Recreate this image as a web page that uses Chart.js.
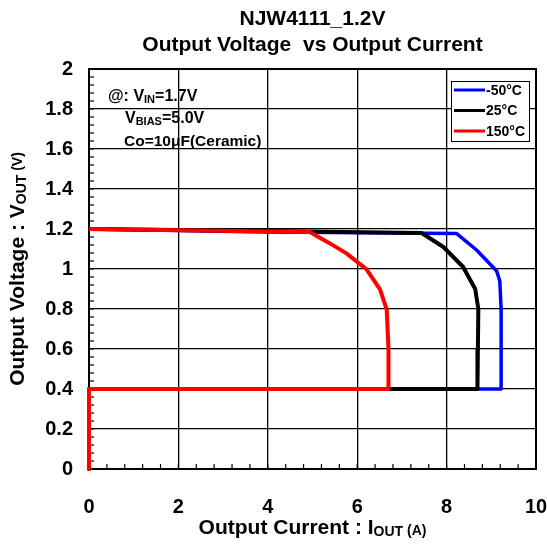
<!DOCTYPE html>
<html>
<head>
<meta charset="utf-8">
<script src="https://cdn.jsdelivr.net/npm/chart.js@4.4.0/dist/chart.umd.min.js"></script>
<style>
  html, body { margin: 0; padding: 0; background: #fff; }
  #wrap { width: 547px; height: 544px; }
</style>
</head>
<body>
<div id="wrap"><canvas id="chart"></canvas></div>
<script>
// readings: output current (A) and output voltage (V) per temperature
const tempLabels = ['-50°C', '25°C', '150°C'];

const iMinus50 = [0, 4, 8.22, 8.67, 9.12, 9.19, 9.22, 9.22, 9.22, 0, 0];
const vMinus50 = [1.2, 1.185, 1.178, 1.095, 0.99, 0.94, 0.8, 0.6, 0.4, 0.4, 0];

const i25 = [0, 4, 7.44, 7.93, 8.37, 8.64, 8.71, 8.70, 8.69, 0, 0];
const v25 = [1.2, 1.19, 1.18, 1.11, 1.01, 0.9, 0.8, 0.6, 0.4, 0.4, 0];

const i150 = [0, 4.94, 5.39, 5.76, 6.21, 6.51, 6.66, 6.70, 6.70, 0, 0];
const v150 = [1.2, 1.185, 1.128, 1.078, 0.998, 0.898, 0.798, 0.6, 0.4, 0.4, 0];

const xTicks = [0, 2, 4, 6, 8, 10];
const yTicks = [0, 0.2, 0.4, 0.6, 0.8, 1, 1.2, 1.4, 1.6, 1.8, 2];

const FONT = '"Liberation Sans", Arial, sans-serif';

function pts(xs, ys) {
    return xs.map((x, k) => ({ x: x, y: ys[k] }));
}

// text made of parts, some of them subscripts
function richWidth(ctx, parts, size) {
    let w = 0;
    parts.forEach(p => {
        ctx.font = 'bold ' + (p.s || size) + 'px ' + FONT;
        w += ctx.measureText(p.t).width;
    });
    return w;
}
function drawRich(ctx, parts, x, y, size) {
    ctx.textBaseline = 'middle';
    ctx.textAlign = 'left';
    parts.forEach(p => {
        ctx.font = 'bold ' + (p.s || size) + 'px ' + FONT;
        ctx.fillText(p.t, x, y + (p.dy || 0));
        x += ctx.measureText(p.t).width;
    });
}

const extras = {
    id: 'extras',
    beforeDatasetsDraw(chart) {
        const ctx = chart.ctx;
        const a = chart.chartArea;
        const xs = chart.scales.x, ys = chart.scales.y;
        ctx.save();
        ctx.strokeStyle = '#000';
        ctx.lineWidth = 1.2;
        // minor ticks, pointing inward
        for (let v = 0; v <= 2.0001; v += 0.04) {
            const py = ys.getPixelForValue(v);
            ctx.beginPath(); ctx.moveTo(a.left, py); ctx.lineTo(a.left + 5, py); ctx.stroke();
        }
        for (let v = 0; v <= 10.0001; v += 0.4) {
            const px = xs.getPixelForValue(v);
            ctx.beginPath(); ctx.moveTo(px, a.bottom); ctx.lineTo(px, a.bottom - 5); ctx.stroke();
        }
        ctx.lineWidth = 2;
        ctx.strokeRect(a.left, a.top, a.right - a.left, a.bottom - a.top);
        ctx.restore();
    },
    afterDraw(chart) {
        const ctx = chart.ctx;
        const a = chart.chartArea;
        ctx.save();
        ctx.fillStyle = '#000';

        // conditions
        drawRich(ctx, [{ t: '@: V' }, { t: 'IN', s: 11, dy: 3 }, { t: '=1.7V' }], 108, 97, 16);
        drawRich(ctx, [{ t: 'V' }, { t: 'BIAS', s: 11, dy: 3 }, { t: '=5.0V' }], 125, 119, 16);
        drawRich(ctx, [{ t: 'Co=10μF(Ceramic)' }], 124, 142, 15.5);

        // legend box
        const lx = 451, ly = 81, lw = 78, lh = 60;
        ctx.fillStyle = '#fff';
        ctx.fillRect(lx, ly, lw, lh);
        ctx.strokeStyle = '#000';
        ctx.lineWidth = 1;
        ctx.strokeRect(lx + 0.5, ly + 0.5, lw, lh);
        chart.data.datasets.forEach((ds, k) => {
            const ry = 90 + k * 20.5;
            ctx.strokeStyle = ds.borderColor;
            ctx.lineWidth = 3;
            ctx.beginPath(); ctx.moveTo(454, ry); ctx.lineTo(485, ry); ctx.stroke();
            ctx.fillStyle = '#000';
            drawRich(ctx, [{ t: ds.label }], 486, ry + 1, 14);
        });

        // x axis title
        const xParts = [{ t: 'Output Current : I' }, { t: 'OUT', s: 14, dy: 4 }, { t: ' (A)', s: 14, dy: 3 }];
        const xw = richWidth(ctx, xParts, 21);
        ctx.fillStyle = '#000';
        drawRich(ctx, xParts, (a.left + a.right) / 2 - xw / 2, 528, 21);

        // y axis title
        const yParts = [{ t: 'Output Voltage : V' }, { t: 'OUT', s: 14, dy: 4 }, { t: ' (V)', s: 14, dy: 0 }];
        const yw = richWidth(ctx, yParts, 21);
        ctx.translate(18, 269);
        ctx.rotate(-Math.PI / 2);
        drawRich(ctx, yParts, -yw / 2, 0, 21);
        ctx.restore();
    }
};

new Chart(document.getElementById('chart').getContext('2d'), {
    type: 'scatter',
    data: {
        datasets: [{
            label: tempLabels[0],
            data: pts(iMinus50, vMinus50),
            borderColor: '#0000ff',
            borderWidth: 3.5,
            order: 3
        }, {
            label: tempLabels[1],
            data: pts(i25, v25),
            borderColor: '#000000',
            borderWidth: 4,
            order: 2
        }, {
            label: tempLabels[2],
            data: pts(i150, v150),
            borderColor: '#ff0000',
            borderWidth: 4,
            order: 1
        }]
    },
    options: {
        responsive: true,
        maintainAspectRatio: false,
        animation: false,
        showLine: true,
        layout: { padding: { top: 0, right: 11, bottom: 0, left: 0 } },
        elements: {
            point: { radius: 0, hoverRadius: 0 },
            line: { tension: 0, borderJoinStyle: 'round', borderCapStyle: 'butt', fill: false }
        },
        datasets: { scatter: { clip: false } },
        scales: {
            x: {
                type: 'linear',
                min: 0, max: 10,
                afterBuildTicks: s => { s.ticks = xTicks.map(v => ({ value: v })); },
                afterFit: s => { s.height = 75; s.paddingLeft = 0; s.paddingRight = 0; },
                grid: { color: '#000', lineWidth: 1.3, drawTicks: false },
                border: { display: false },
                ticks: {
                    color: '#000',
                    padding: 26,
                    font: { family: FONT, size: 20, weight: 'bold' },
                    maxRotation: 0,
                    callback: v => String(v)
                }
            },
            y: {
                type: 'linear',
                min: 0, max: 2,
                afterBuildTicks: s => { s.ticks = yTicks.map(v => ({ value: v })); },
                afterFit: s => { s.width = 89; s.paddingTop = 0; s.paddingBottom = 0; },
                grid: { color: '#000', lineWidth: 1.3, drawTicks: false },
                border: { display: false },
                ticks: {
                    color: '#000',
                    padding: 16,
                    font: { family: FONT, size: 20, weight: 'bold' },
                    callback: v => String(Math.round(v * 10) / 10)
                }
            }
        },
        plugins: {
            legend: { display: false },
            tooltip: { enabled: false },
            title: {
                display: true,
                fullSize: false,
                text: ['NJW4111_1.2V', 'Output Voltage  vs Output Current'],
                color: '#000',
                font: { family: FONT, size: 21, weight: 'bold', lineHeight: 1.2 },
                padding: { top: 7, bottom: 11.6 }
            }
        }
    },
    plugins: [extras]
});
</script>
</body>
</html>
